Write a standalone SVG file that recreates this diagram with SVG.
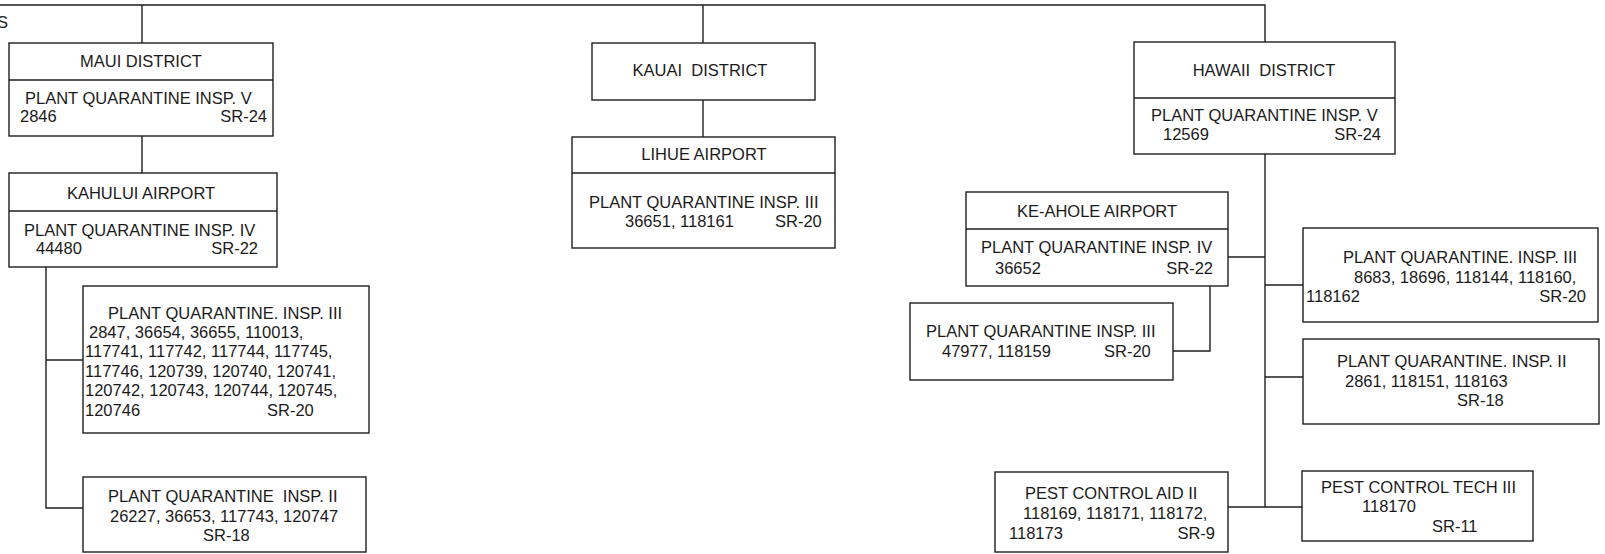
<svg xmlns="http://www.w3.org/2000/svg" width="1605" height="554" viewBox="0 0 1605 554">
<style>
  .box { fill: #fff; stroke: #1e1e1e; stroke-width: 1.4; }
  .div { stroke: #1e1e1e; stroke-width: 1.4; fill: none; }
  .conn path { stroke: #1e1e1e; stroke-width: 1.4; fill: none; }
  text { font-family: "Liberation Sans", Arial, sans-serif; font-size: 16.5px; fill: #1a1a1a; }
  .m { text-anchor: middle; }
  .e { text-anchor: end; }
</style>
<rect width="1605" height="554" fill="#fff"/>
<text x="-3" y="28">S</text>
<g id="connectors" class="conn">
  <path d="M0 5 H1265 V42"/>
  <path d="M142 5 V43"/>
  <path d="M703 5 V43"/>
  <path d="M142 136 V173"/>
  <path d="M703 100 V137"/>
  <path d="M46 267 V508 H83"/>
  <path d="M46 360 H83"/>
  <path d="M1265 154 V507"/>
  <path d="M1228 257 H1265"/>
  <path d="M1265 285 H1303"/>
  <path d="M1265 377 H1303"/>
  <path d="M1228 507 H1302"/>
  <path d="M1210 286 V351 H1173"/>
</g>
<g id="maui">
  <rect class="box" x="9" y="43" width="264" height="93"/>
  <path class="div" d="M9 80 H273"/>
  <text class="m" x="141" y="67">MAUI DISTRICT</text>
  <text x="25" y="104">PLANT QUARANTINE INSP. V</text>
  <text x="20" y="122">2846</text>
  <text class="e" x="267" y="122">SR-24</text>
</g>
<g id="kahului">
  <rect class="box" x="9" y="173" width="268" height="94"/>
  <path class="div" d="M9 211 H277"/>
  <text class="m" x="141" y="199">KAHULUI AIRPORT</text>
  <text x="24" y="236">PLANT QUARANTINE INSP. IV</text>
  <text x="36" y="254">44480</text>
  <text class="e" x="258" y="254">SR-22</text>
</g>
<g id="maui-pqi3">
  <rect class="box" x="83" y="286" width="286" height="147"/>
  <text x="108" y="319">PLANT QUARANTINE. INSP. III</text>
  <text x="89" y="338">2847, 36654, 36655, 110013,</text>
  <text x="85" y="357">117741, 117742, 117744, 117745,</text>
  <text x="85" y="377">117746, 120739, 120740, 120741,</text>
  <text x="85" y="396">120742, 120743, 120744, 120745,</text>
  <text x="85" y="416">120746</text>
  <text x="267" y="416">SR-20</text>
</g>
<g id="maui-pqi2">
  <rect class="box" x="83" y="477" width="283" height="75"/>
  <text x="108" y="502" xml:space="preserve">PLANT QUARANTINE  INSP. II</text>
  <text x="110" y="522">26227, 36653, 117743, 120747</text>
  <text x="203" y="541">SR-18</text>
</g>
<g id="kauai">
  <rect class="box" x="592" y="43" width="223" height="57"/>
  <text class="m" x="700" y="76" xml:space="preserve">KAUAI  DISTRICT</text>
</g>
<g id="lihue">
  <rect class="box" x="572" y="137" width="263" height="111"/>
  <path class="div" d="M572 173 H835"/>
  <text class="m" x="704" y="160">LIHUE AIRPORT</text>
  <text x="589" y="208">PLANT QUARANTINE INSP. III</text>
  <text x="625" y="227">36651, 118161</text>
  <text x="775" y="227">SR-20</text>
</g>
<g id="hawaii">
  <rect class="box" x="1134" y="42" width="261" height="112"/>
  <path class="div" d="M1134 98 H1395"/>
  <text class="m" x="1264" y="76" xml:space="preserve">HAWAII  DISTRICT</text>
  <text x="1151" y="121">PLANT QUARANTINE INSP. V</text>
  <text x="1163" y="140">12569</text>
  <text class="e" x="1381" y="140">SR-24</text>
</g>
<g id="keahole">
  <rect class="box" x="966" y="192" width="262" height="94"/>
  <path class="div" d="M966 229 H1228"/>
  <text class="m" x="1097" y="217">KE-AHOLE AIRPORT</text>
  <text x="981" y="253">PLANT QUARANTINE INSP. IV</text>
  <text x="995" y="274">36652</text>
  <text class="e" x="1213" y="274">SR-22</text>
</g>
<g id="keahole-pqi3">
  <rect class="box" x="910" y="303" width="263" height="77"/>
  <text x="926" y="337">PLANT QUARANTINE INSP. III</text>
  <text x="942" y="357">47977, 118159</text>
  <text x="1104" y="357">SR-20</text>
</g>
<g id="hawaii-pqi3">
  <rect class="box" x="1303" y="228" width="295" height="94"/>
  <text x="1343" y="263">PLANT QUARANTINE. INSP. III</text>
  <text x="1354" y="283">8683, 18696, 118144, 118160,</text>
  <text x="1306" y="302">118162</text>
  <text class="e" x="1586" y="302">SR-20</text>
</g>
<g id="hawaii-pqi2">
  <rect class="box" x="1303" y="339" width="296" height="85"/>
  <text x="1337" y="367">PLANT QUARANTINE. INSP. II</text>
  <text x="1345" y="387">2861, 118151, 118163</text>
  <text x="1457" y="406">SR-18</text>
</g>
<g id="pest-aid">
  <rect class="box" x="995" y="472" width="233" height="80"/>
  <text x="1025" y="499">PEST CONTROL AID II</text>
  <text x="1023" y="519">118169, 118171, 118172,</text>
  <text x="1009" y="539">118173</text>
  <text class="e" x="1215" y="539">SR-9</text>
</g>
<g id="pest-tech">
  <rect class="box" x="1302" y="471" width="231" height="70"/>
  <text x="1321" y="493">PEST CONTROL TECH III</text>
  <text x="1362" y="512">118170</text>
  <text x="1432" y="532">SR-11</text>
</g>
</svg>
